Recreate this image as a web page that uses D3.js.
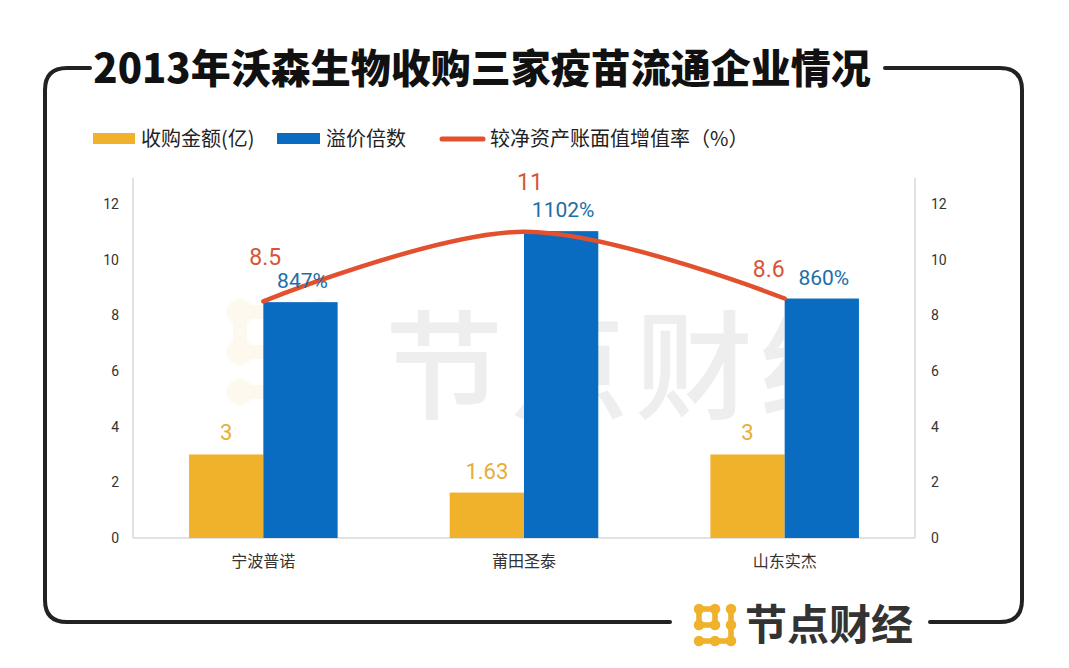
<!DOCTYPE html>
<html><head><meta charset="utf-8">
<script src="https://cdn.jsdelivr.net/npm/d3@7"></script>
<style>
html,body{margin:0;padding:0;background:#fff;}
svg{display:block;font-family:"Noto Sans CJK SC","Noto Sans",sans-serif;}
</style></head>
<body><svg id="c" width="1069" height="668"></svg>
<script>
// ---- data ----
const title = "2013年沃森生物收购三家疫苗流通企业情况";
const categories = ["宁波普诺", "莆田圣泰", "山东实杰"];
const seriesNames = ["收购金额(亿)", "溢价倍数", "较净资产账面值增值率（%）"];
const purchaseAmount = [3, 1.63, 3];
const premiumPercent = [847, 1102, 860];
const premiumLabels = ["847%", "1102%", "860%"];
const growthRate = [8.5, 11, 8.6];
const yTicks = [0, 2, 4, 6, 8, 10, 12];
const brand = "节点财经";

// ---- layout / style ----
const W = 1069, H = 668;
const plot = {left: 133, right: 915, top: 176, bottom: 538};
const colors = {amount: "#F0B12B", premium: "#0A6CC0", line: "#E2502E",
  amountLabel: "#E6AE35", premiumLabel: "#1E6EA6", lineLabel: "#D85538"};
const redLabelOffsets = [[2, -36], [6, -42], [-16, -22]];

const svg = d3.select("#c");

// background
svg.append("rect").attr("width", W).attr("height", H).attr("fill", "#fff");

// frame
const fx0 = 45, fx1 = 1022, fy0 = 68, fy1 = 622, r = 22;
const frame = svg.append("g").attr("fill", "none").attr("stroke", "#222").attr("stroke-width", 4).attr("stroke-linecap", "round");
frame.append("path").attr("d",
  `M90,${fy0} L${fx0 + r},${fy0} Q${fx0},${fy0} ${fx0},${fy0 + r} L${fx0},${fy1 - r} Q${fx0},${fy1} ${fx0 + r},${fy1} L670,${fy1}`);
frame.append("path").attr("d",
  `M930,${fy1} L${fx1 - r},${fy1} Q${fx1},${fy1} ${fx1},${fy1 - r} L${fx1},${fy0 + r} Q${fx1},${fy0} ${fx1 - r},${fy0} L885,${fy0}`);

// title
svg.append("text").attr("x", 482).attr("y", 83).attr("text-anchor", "middle")
  .attr("font-size", 40).attr("font-weight", 900).attr("fill", "#111")
  .attr("font-family", "'Noto Sans CJK SC',sans-serif").text(title);

// scales
const x0 = d3.scaleBand().domain(categories).range([plot.left, plot.right]).paddingInner(0).paddingOuter(0);
const x1 = d3.scaleBand().domain(["amount", "premium"]).range([0, 0]);
const groupW = x0.bandwidth() * 0.57;
x1.range([(x0.bandwidth() - groupW) / 2, (x0.bandwidth() + groupW) / 2]);
const y = d3.scaleLinear().domain([0, 13]).range([plot.bottom, plot.top]);
const cx = c => x0(c) + x0.bandwidth() / 2;

// watermark (each character separately, clipped to the visible part)
svg.append("clipPath").attr("id", "wmclip").append("rect")
  .attr("x", 300).attr("y", 290).attr("width", 484).attr("height", 140);
const wm = svg.append("g").attr("clip-path", "url(#wmclip)");
const wmChars = brand.split("");
wmChars.forEach((ch, i) => {
  wm.append("text").attr("x", 385 + i * 125).attr("y", 410).attr("font-size", 118).attr("font-weight", 500)
    .attr("fill", "#eeeeee").text(ch);
});
function drawIcon(g, ox, oy, s, col) {
  const pts = [[0,0],[1,0],[2,0],[0,1],[1,1],[2,1],[0,2],[1,2],[2,2]];
  const links = [[[0,0],[1,0]],[[0,0],[0,1]],[[1,0],[1,1]],[[0,1],[1,1]],[[2,0],[2,2]],[[0,2],[2,2]]];
  links.forEach(l => g.append("line")
    .attr("x1", ox + l[0][0] * s).attr("y1", oy + l[0][1] * s)
    .attr("x2", ox + l[1][0] * s).attr("y2", oy + l[1][1] * s)
    .attr("stroke", col).attr("stroke-width", s * 0.35));
  pts.forEach(p => g.append("circle").attr("cx", ox + p[0] * s).attr("cy", oy + p[1] * s)
    .attr("r", s * 0.33).attr("fill", col));
}
drawIcon(svg.append("g").attr("opacity", 0.07), 240, 312, 40, colors.amount);

// axes lines
const axisG = svg.append("g").attr("stroke", "#d9d9d9").attr("stroke-width", 1.5);
axisG.append("line").attr("x1", plot.left).attr("x2", plot.left).attr("y1", plot.top + 2).attr("y2", plot.bottom);
axisG.append("line").attr("x1", plot.right).attr("x2", plot.right).attr("y1", plot.top + 2).attr("y2", plot.bottom);
axisG.append("line").attr("x1", plot.left).attr("x2", plot.right).attr("y1", plot.bottom).attr("y2", plot.bottom);

// tick labels via d3 axes
const yl = d3.axisLeft(y).tickValues(yTicks).tickSize(0).tickPadding(14);
const yr = d3.axisRight(y).tickValues(yTicks).tickSize(0).tickPadding(16);
const gl = svg.append("g").attr("transform", `translate(${plot.left},0)`).call(yl);
const gr = svg.append("g").attr("transform", `translate(${plot.right},0)`).call(yr);
[gl, gr].forEach(g => {
  g.select(".domain").remove();
  g.selectAll("text").attr("font-size", 14).attr("fill", "#333").attr("font-family", "Roboto,'Noto Sans',sans-serif");
});
const xa = d3.axisBottom(x0).tickSize(0).tickPadding(18);
const gx = svg.append("g").attr("transform", `translate(0,${plot.bottom})`).call(xa);
gx.select(".domain").remove();
gx.selectAll("text").attr("font-size", 16).attr("fill", "#333").attr("font-family", "'Noto Sans CJK SC',sans-serif");

// bars
const bars = svg.append("g");
categories.forEach((c, i) => {
  bars.append("rect").attr("x", x0(c) + x1("amount")).attr("width", x1.bandwidth())
    .attr("y", y(purchaseAmount[i])).attr("height", y(0) - y(purchaseAmount[i])).attr("fill", colors.amount);
  const pv = premiumPercent[i] / 100;
  bars.append("rect").attr("x", x0(c) + x1("premium")).attr("width", x1.bandwidth())
    .attr("y", y(pv)).attr("height", y(0) - y(pv)).attr("fill", colors.premium);
});

// line
const line = d3.line().x((d, i) => cx(categories[i])).y(d => y(d)).curve(d3.curveCatmullRom.alpha(0.5));
svg.append("path").datum(growthRate).attr("d", line).attr("fill", "none")
  .attr("stroke", colors.line).attr("stroke-width", 4.5).attr("stroke-linecap", "round");

// data labels
const lab = svg.append("g").attr("font-family", "Roboto,'Noto Sans',sans-serif").attr("text-anchor", "middle");
categories.forEach((c, i) => {
  lab.append("text").attr("x", x0(c) + x1("amount") + x1.bandwidth() / 2).attr("y", y(purchaseAmount[i]) - 14)
    .attr("font-size", 22).attr("fill", colors.amountLabel).text(purchaseAmount[i]);
  lab.append("text").attr("x", x0(c) + x1("premium") + x1.bandwidth() / 2 + 2).attr("y", y(premiumPercent[i] / 100) - 14)
    .attr("font-size", 21).attr("fill", colors.premiumLabel).text(premiumLabels[i]);
  lab.append("text").attr("x", cx(c) + redLabelOffsets[i][0]).attr("y", y(growthRate[i]) + redLabelOffsets[i][1])
    .attr("font-size", 23).attr("fill", colors.lineLabel).text(growthRate[i]);
});

// legend
const lg = svg.append("g").attr("font-size", 20).attr("fill", "#222");
lg.append("rect").attr("x", 93).attr("y", 133).attr("width", 42).attr("height", 11).attr("fill", colors.amount);
lg.append("text").attr("x", 141).attr("y", 146).text(seriesNames[0]);
lg.append("rect").attr("x", 277).attr("y", 133).attr("width", 43).attr("height", 11).attr("fill", colors.premium);
lg.append("text").attr("x", 326).attr("y", 146).text(seriesNames[1]);
lg.append("line").attr("x1", 442).attr("x2", 483).attr("y1", 139).attr("y2", 139)
  .attr("stroke", colors.line).attr("stroke-width", 5).attr("stroke-linecap", "round");
lg.append("text").attr("x", 490).attr("y", 146).text(seriesNames[2]);

// brand logo
drawIcon(svg.append("g"), 699, 609, 16, "#F0B12B");
svg.append("text").attr("x", 745).attr("y", 640).attr("font-size", 42).attr("font-weight", 700)
  .attr("fill", "#333").attr("font-family", "'Noto Sans CJK SC',sans-serif").text(brand);
</script></body></html>
